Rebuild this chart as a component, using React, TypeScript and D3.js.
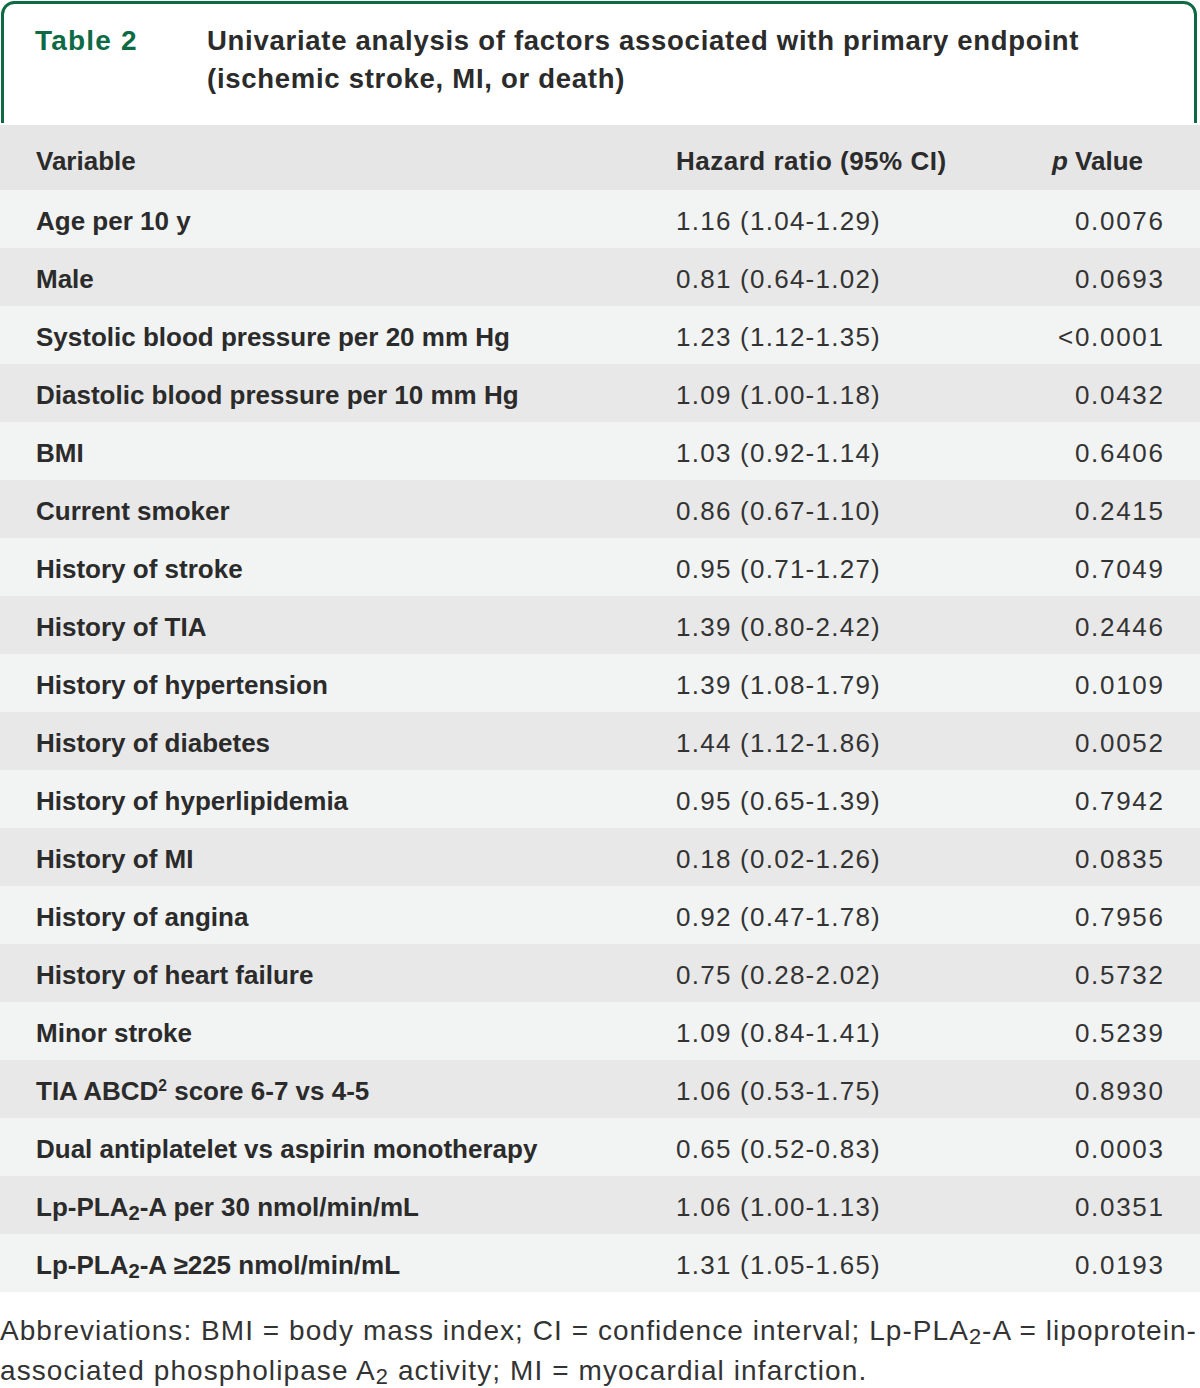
import React from "react";
import * as d3 from "d3";

const tableLabel = "Table 2";
const titleLines = [
  "Univariate analysis of factors associated with primary endpoint",
  "(ischemic stroke, MI, or death)",
];
const columnHeaders = ["Variable", "Hazard ratio (95% CI)", "*p* Value"];

const variables = [
  "Age per 10 y",
  "Male",
  "Systolic blood pressure per 20 mm Hg",
  "Diastolic blood pressure per 10 mm Hg",
  "BMI",
  "Current smoker",
  "History of stroke",
  "History of TIA",
  "History of hypertension",
  "History of diabetes",
  "History of hyperlipidemia",
  "History of MI",
  "History of angina",
  "History of heart failure",
  "Minor stroke",
  "TIA ABCD^2 score 6-7 vs 4-5",
  "Dual antiplatelet vs aspirin monotherapy",
  "Lp-PLA_2-A per 30 nmol/min/mL",
  "Lp-PLA_2-A ≥225 nmol/min/mL",
];

const hazardRatios = [
  "1.16 (1.04-1.29)",
  "0.81 (0.64-1.02)",
  "1.23 (1.12-1.35)",
  "1.09 (1.00-1.18)",
  "1.03 (0.92-1.14)",
  "0.86 (0.67-1.10)",
  "0.95 (0.71-1.27)",
  "1.39 (0.80-2.42)",
  "1.39 (1.08-1.79)",
  "1.44 (1.12-1.86)",
  "0.95 (0.65-1.39)",
  "0.18 (0.02-1.26)",
  "0.92 (0.47-1.78)",
  "0.75 (0.28-2.02)",
  "1.09 (0.84-1.41)",
  "1.06 (0.53-1.75)",
  "0.65 (0.52-0.83)",
  "1.06 (1.00-1.13)",
  "1.31 (1.05-1.65)",
];

const pValues = [
  "0.0076",
  "0.0693",
  "<0.0001",
  "0.0432",
  "0.6406",
  "0.2415",
  "0.7049",
  "0.2446",
  "0.0109",
  "0.0052",
  "0.7942",
  "0.0835",
  "0.7956",
  "0.5732",
  "0.5239",
  "0.8930",
  "0.0003",
  "0.0351",
  "0.0193",
];

const footnoteLines = [
  "Abbreviations: BMI = body mass index; CI = confidence interval; Lp-PLA_2-A = lipoprotein-",
  "associated phospholipase A_2 activity; MI = myocardial infarction.",
];

const W = 1200;
const H = 1388;
const GREEN = "#0c6b45";
const TEXT = "#2b2b2b";
const SANS = "'Liberation Sans', Arial, sans-serif";

// parse markup: _d subscript, ^d superscript, *x* italic
function renderRich(s: string, fontSize: number) {
  const parts = s.split(/(_\d|\^\d|\*[^*]+\*)/).filter((p) => p.length > 0);
  const out: React.ReactNode[] = [];
  let shift = 0;
  parts.forEach((p, i) => {
    if (p.startsWith("_")) {
      const dy = fontSize * 0.16 - shift;
      shift = fontSize * 0.16;
      out.push(
        <tspan key={i} dy={dy} fontSize={fontSize * 0.78}>
          {p.slice(1)}
        </tspan>
      );
    } else if (p.startsWith("^")) {
      const dy = -fontSize * 0.36 - shift;
      shift = -fontSize * 0.36;
      out.push(
        <tspan key={i} dy={dy} fontSize={fontSize * 0.6}>
          {p.slice(1)}
        </tspan>
      );
    } else if (p.startsWith("*")) {
      const dy = -shift;
      shift = 0;
      out.push(
        <tspan key={i} dy={dy || undefined} fontStyle="italic">
          {p.slice(1, -1)}
        </tspan>
      );
    } else {
      const dy = -shift;
      shift = 0;
      out.push(
        <tspan key={i} dy={dy || undefined}>
          {p}
        </tspan>
      );
    }
  });
  return out;
}

export default function App() {
  const headerTop = 125;
  const headerBottom = 190;
  const tableBottom = 1292;

  const y = d3
    .scaleBand<number>()
    .domain(d3.range(variables.length))
    .range([headerBottom, tableBottom])
    .paddingInner(0)
    .paddingOuter(0);

  const xVar = 36;
  const xHR = 676;
  const pLs = 1.7;
  const xP = 1163 + pLs;
  const xPHead = 1143;

  const r = 12;
  const bx0 = 2.5;
  const bx1 = 1195.5;
  const by0 = 2.5;
  const byEnd = 123;
  const borderPath = d3.path();
  borderPath.moveTo(bx0, byEnd);
  borderPath.lineTo(bx0, by0 + r);
  borderPath.arcTo(bx0, by0, bx0 + r, by0, r);
  borderPath.lineTo(bx1 - r, by0);
  borderPath.arcTo(bx1, by0, bx1, by0 + r, r);
  borderPath.lineTo(bx1, byEnd);

  const bodyFs = 26;
  const boldFs = 26;

  return (
    <svg
      width={W}
      height={H}
      viewBox={`0 0 ${W} ${H}`}
      style={{ position: "absolute", left: 0, top: 0, background: "#ffffff" }}
      fontFamily={SANS}
    >
      <rect x={0} y={0} width={W} height={H} fill="#ffffff" />
      <path d={borderPath.toString()} fill="none" stroke={GREEN} strokeWidth={3} />

      <text x={35} y={50} fill={GREEN} fontWeight={700} fontSize={28} letterSpacing={1.2}>
        {tableLabel}
      </text>
      {titleLines.map((t, i) => (
        <text
          key={i}
          x={207}
          y={50 + i * 38}
          fill={TEXT}
          fontWeight={700}
          fontSize={27.5}
          letterSpacing={0.72}
        >
          {t}
        </text>
      ))}

      {/* header row */}
      <rect x={0} y={headerTop} width={W} height={headerBottom - headerTop} fill="#e6e6e6" />
      <text x={xVar} y={170} fill={TEXT} fontWeight={700} fontSize={boldFs}>
        {columnHeaders[0]}
      </text>
      <text x={xHR} y={170} fill={TEXT} fontWeight={700} fontSize={boldFs} letterSpacing={0.5}>
        {columnHeaders[1]}
      </text>
      <text x={xPHead} y={170} fill={TEXT} fontWeight={700} fontSize={boldFs} textAnchor="end">
        {renderRich(columnHeaders[2], boldFs)}
      </text>

      {variables.map((v, i) => {
        const top = y(i) as number;
        const base = top + 40;
        return (
          <g key={i}>
            <rect
              x={0}
              y={top}
              width={W}
              height={y.bandwidth()}
              fill={i % 2 === 0 ? "#f2f3f3" : "#e8e8e8"}
            />
            <text x={xVar} y={base} fill={TEXT} fontWeight={700} fontSize={boldFs}>
              {renderRich(v, boldFs)}
            </text>
            <text x={xHR} y={base} fill="#333333" fontSize={bodyFs} letterSpacing={1.25}>
              {hazardRatios[i]}
            </text>
            <text
              x={xP}
              y={base}
              fill="#333333"
              fontSize={bodyFs}
              textAnchor="end"
              letterSpacing={pLs}
            >
              {pValues[i]}
            </text>
          </g>
        );
      })}

      {footnoteLines.map((f, i) => (
        <text
          key={i}
          x={0}
          y={1340 + i * 40}
          fill="#333333"
          fontSize={28}
          letterSpacing={1.1}
          textLength={i === 0 ? 1197 : undefined}
          lengthAdjust={i === 0 ? "spacing" : undefined}
        >
          {renderRich(f, 28)}
        </text>
      ))}
    </svg>
  );
}
